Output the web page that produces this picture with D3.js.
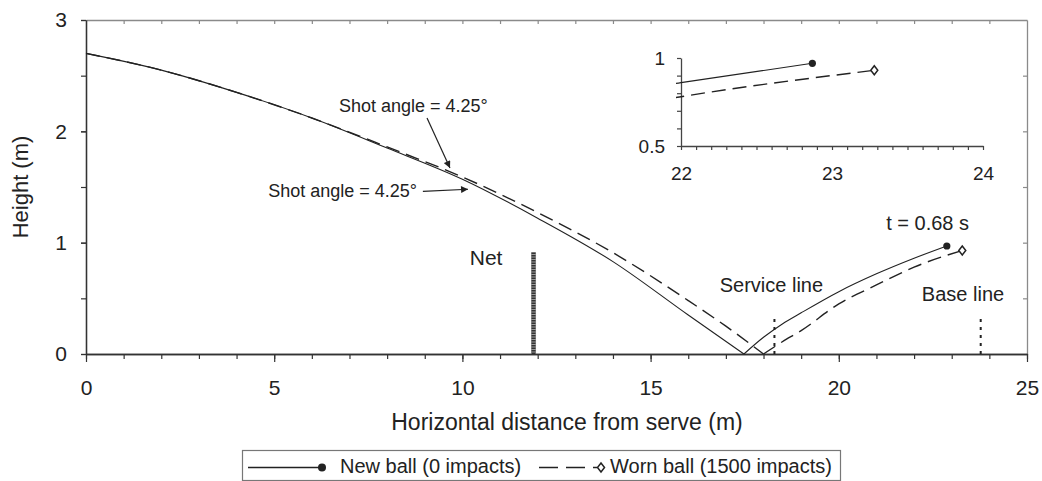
<!DOCTYPE html>
<html>
<head>
<meta charset="utf-8">
<script src="https://cdn.jsdelivr.net/npm/d3@7"></script>
<style>
  body { margin: 0; background: #fff; }
  svg { display: block; font-family: "Liberation Sans", Arial, sans-serif; }
</style>
</head>
<body>
<div id="chart"></div>
<script>
// ---------------- data ----------------
const newBallX  = [0, 2, 4, 6, 8, 10, 12, 14, 16, 17.48, 18, 18.5, 19, 20, 21, 22, 22.87];
const newBallH  = [2.70, 2.55, 2.35, 2.12, 1.85, 1.57, 1.22, 0.83, 0.35, 0, 0.15, 0.27, 0.37, 0.56, 0.72, 0.86, 0.97];
const wornBallX = [0, 2, 4, 6, 8, 10, 12, 14, 16, 17, 18.0, 18.5, 19, 20, 21, 22, 23.28];
const wornBallH = [2.70, 2.55, 2.35, 2.12, 1.86, 1.59, 1.27, 0.91, 0.48, 0.25, 0, 0.11, 0.21, 0.45, 0.62, 0.78, 0.93];

const courtNames = ["Net", "Service line", "Base line"];
const courtMarkX = [11.89, 18.29, 23.77];
const courtMarkH = [0.914, 0.33, 0.33];

const xMajorTicks = [0, 5, 10, 15, 20, 25];
const yMajorTicks = [0, 1, 2, 3];
const insetXTicks = [22, 23, 24];
const insetYTicks = [0.5, 1];

const seriesNames = ["New ball (0 impacts)", "Worn ball (1500 impacts)"];

// ---------------- svg ----------------
const width = 1042, height = 481;
const svg = d3.select("#chart").append("svg")
  .attr("width", width).attr("height", height);
svg.append("rect").attr("width", width).attr("height", height).attr("fill", "#fff");

const ink = "#222";

// scales
const x = d3.scaleLinear().domain([0, 25]).range([86, 1027]);
const y = d3.scaleLinear().domain([0, 3]).range([354, 20]);
const ix = d3.scaleLinear().domain([22, 24]).range([681, 983]);
const iy = d3.scaleLinear().domain([0.5, 1]).range([146, 58]);

// arrow marker
svg.append("defs").append("marker")
  .attr("id", "arrow")
  .attr("viewBox", "0 0 10 10")
  .attr("refX", 10).attr("refY", 5)
  .attr("markerUnits", "userSpaceOnUse")
  .attr("markerWidth", 10).attr("markerHeight", 7)
  .attr("orient", "auto")
  .append("path").attr("d", "M0,0 L10,5 L0,10 z").attr("fill", ink);

svg.select("defs").append("clipPath").attr("id", "insetClip")
  .append("rect").attr("x", 676).attr("y", 40).attr("width", 320).attr("height", 106);

function styleAxis(g, color, fontSize) {
  g.select(".domain").attr("stroke", color).attr("stroke-width", 1.3);
  g.selectAll(".tick line").attr("stroke", color).attr("stroke-width", 1.2);
  g.selectAll(".tick text").attr("fill", ink).style("font-size", fontSize + "px")
    .style("font-family", "'Liberation Sans', Arial, sans-serif");
}

// ---------------- frame (top / right) ----------------
const frame = "#8a8a8a";
const topG = svg.append("g").attr("transform", `translate(0,${y(3)})`)
  .call(d3.axisBottom(x).tickValues(d3.range(1, 25, 1)).tickSize(4).tickSizeOuter(0).tickFormat(""));
styleAxis(topG, frame, 10);
const rightG = svg.append("g").attr("transform", `translate(${x(25)},0)`)
  .call(d3.axisLeft(y).tickValues(d3.range(0.5, 3, 0.5)).tickSize(4).tickSizeOuter(0).tickFormat(""));
styleAxis(rightG, frame, 10);

// ---------------- main axes ----------------
const xMinor = svg.append("g").attr("transform", `translate(0,${y(0)})`)
  .call(d3.axisBottom(x).tickValues(d3.range(0, 26, 1)).tickSize(5).tickSizeOuter(0).tickFormat(""));
styleAxis(xMinor, "#333", 10);
const xAxis = svg.append("g").attr("transform", `translate(0,${y(0)})`)
  .call(d3.axisBottom(x).tickValues(xMajorTicks).tickSize(8).tickSizeOuter(0).tickPadding(18).tickFormat(d3.format("d")));
styleAxis(xAxis, "#333", 21);

const yMinor = svg.append("g").attr("transform", `translate(${x(0)},0)`)
  .call(d3.axisLeft(y).tickValues(d3.range(0, 3.01, 0.5)).tickSize(5).tickSizeOuter(0).tickFormat(""));
styleAxis(yMinor, "#333", 10);
const yAxis = svg.append("g").attr("transform", `translate(${x(0)},0)`)
  .call(d3.axisLeft(y).tickValues(yMajorTicks).tickSize(5).tickSizeOuter(0).tickPadding(14).tickFormat(d3.format("d")));
styleAxis(yAxis, "#333", 21);

// axis titles
svg.append("text")
  .attr("x", 567).attr("y", 430)
  .attr("text-anchor", "middle").attr("fill", ink)
  .style("font-size", "23px")
  .text("Horizontal distance from serve (m)");
svg.append("text")
  .attr("transform", "translate(28,187) rotate(-90)")
  .attr("text-anchor", "middle").attr("fill", ink)
  .style("font-size", "22px")
  .text("Height (m)");

// ---------------- court marks ----------------
// net: thick hatched post
svg.append("line")
  .attr("x1", x(courtMarkX[0])).attr("x2", x(courtMarkX[0]))
  .attr("y1", y(0)).attr("y2", y(courtMarkH[0]))
  .attr("stroke", "#999").attr("stroke-width", 5);
svg.append("line")
  .attr("x1", x(courtMarkX[0])).attr("x2", x(courtMarkX[0]))
  .attr("y1", y(0)).attr("y2", y(courtMarkH[0]))
  .attr("stroke", "#333").attr("stroke-width", 4).attr("stroke-dasharray", "1.5,1");

// service line + base line: dotted
[1, 2].forEach(i => {
  svg.append("line")
    .attr("x1", x(courtMarkX[i])).attr("x2", x(courtMarkX[i]))
    .attr("y1", y(0)).attr("y2", y(courtMarkH[i]))
    .attr("stroke", ink).attr("stroke-width", 2).attr("stroke-dasharray", "3,5");
});

// labels for court marks
const courtLabelAt = [[10.63, 0.80], [18.21, 0.56], [23.30, 0.48]];
courtNames.forEach((name, i) => {
  svg.append("text")
    .attr("x", x(courtLabelAt[i][0])).attr("y", y(courtLabelAt[i][1]))
    .attr("text-anchor", "middle").attr("fill", ink)
    .style("font-size", i === 0 ? "21px" : "20px")
    .text(name);
});

// ---------------- trajectories ----------------
function drawSeries(g, xs, hs, sx, sy, dashed) {
  const pts = xs.map((v, i) => ({ x: v, h: hs[i] }));
  const iMin = d3.minIndex(pts, d => d.h);
  const segs = [pts.slice(0, iMin + 1), pts.slice(iMin)];
  const line = d3.line().x(d => sx(d.x)).y(d => sy(d.h)).curve(d3.curveMonotoneX);
  segs.forEach(seg => {
    g.append("path")
      .attr("d", line(seg))
      .attr("fill", "none")
      .attr("stroke", ink)
      .attr("stroke-width", dashed ? 1.4 : 1.1)
      .attr("stroke-dasharray", dashed ? "14,7" : null);
  });
  const last = pts[pts.length - 1];
  if (dashed) {
    g.append("path")
      .attr("transform", `translate(${sx(last.x)},${sy(last.h)})`)
      .attr("d", "M0,-4.5 L3.5,0 L0,4.5 L-3.5,0 Z")
      .attr("fill", "#fff").attr("stroke", ink).attr("stroke-width", 1.5);
  } else {
    g.append("circle")
      .attr("cx", sx(last.x)).attr("cy", sy(last.h)).attr("r", 3.6)
      .attr("fill", ink);
  }
}

const mainG = svg.append("g");
drawSeries(mainG, newBallX, newBallH, x, y, false);
drawSeries(mainG, wornBallX, wornBallH, x, y, true);

// annotations
svg.append("text")
  .attr("x", x(6.72)).attr("y", y(2.17)).attr("fill", ink)
  .style("font-size", "18px").text("Shot angle = 4.25°");
svg.append("line")
  .attr("x1", x(9.06)).attr("y1", y(2.12)).attr("x2", x(9.67)).attr("y2", y(1.67))
  .attr("stroke", ink).attr("stroke-width", 1.2).attr("marker-end", "url(#arrow)");
svg.append("text")
  .attr("x", x(4.84)).attr("y", y(1.41)).attr("fill", ink)
  .style("font-size", "18px").text("Shot angle = 4.25°");
svg.append("line")
  .attr("x1", x(8.95)).attr("y1", y(1.46)).attr("x2", x(10.15)).attr("y2", y(1.48))
  .attr("stroke", ink).attr("stroke-width", 1.2).attr("marker-end", "url(#arrow)");

svg.append("text")
  .attr("x", x(22.36)).attr("y", y(1.11))
  .attr("text-anchor", "middle").attr("fill", ink)
  .style("font-size", "20px").text("t = 0.68 s");

// ---------------- inset ----------------
const ixAxis = svg.append("g").attr("transform", `translate(0,${iy(0.5)})`)
  .call(d3.axisBottom(ix).tickValues(d3.range(22, 24.001, 0.1)).tickSize(4).tickSizeOuter(0).tickPadding(17)
    .tickFormat(d => insetXTicks.some(t => Math.abs(t - d) < 1e-6) ? d3.format("d")(Math.round(d)) : ""));
styleAxis(ixAxis, "#444", 19);
const iyAxis = svg.append("g").attr("transform", `translate(${ix(22)},0)`)
  .call(d3.axisLeft(iy).tickValues(d3.range(0.5, 1.001, 0.1)).tickSize(4).tickSizeOuter(0).tickPadding(12)
    .tickFormat(d => insetYTicks.some(t => Math.abs(t - d) < 1e-6) ? (Math.abs(d - 1) < 1e-6 ? "1" : "0.5") : ""));
styleAxis(iyAxis, "#444", 19);

const insetG = svg.append("g").attr("clip-path", "url(#insetClip)");
drawSeries(insetG, newBallX, newBallH, ix, iy, false);
drawSeries(insetG, wornBallX, wornBallH, ix, iy, true);

// ---------------- legend ----------------
const lg = svg.append("g");
lg.append("rect")
  .attr("x", 242.5).attr("y", 450.5).attr("width", 598).attr("height", 30)
  .attr("fill", "#fff").attr("stroke", "#777").attr("stroke-width", 1.2);
const ly = 467.5;
lg.append("line").attr("x1", 248).attr("x2", 320).attr("y1", ly).attr("y2", ly)
  .attr("stroke", ink).attr("stroke-width", 1.5);
lg.append("circle").attr("cx", 322).attr("cy", ly).attr("r", 4).attr("fill", ink);
lg.append("text").attr("x", 340).attr("y", 473).attr("fill", ink)
  .style("font-size", "20px").text(seriesNames[0]);
lg.append("line").attr("x1", 539).attr("x2", 597).attr("y1", ly).attr("y2", ly)
  .attr("stroke", ink).attr("stroke-width", 1.5).attr("stroke-dasharray", "19,8");
lg.append("path").attr("transform", `translate(601,${ly})`)
  .attr("d", "M0,-4.5 L3.5,0 L0,4.5 L-3.5,0 Z")
  .attr("fill", "#fff").attr("stroke", ink).attr("stroke-width", 1.5);
lg.append("text").attr("x", 610).attr("y", 473).attr("fill", ink)
  .style("font-size", "20px").text(seriesNames[1]);
</script>
</body>
</html>
